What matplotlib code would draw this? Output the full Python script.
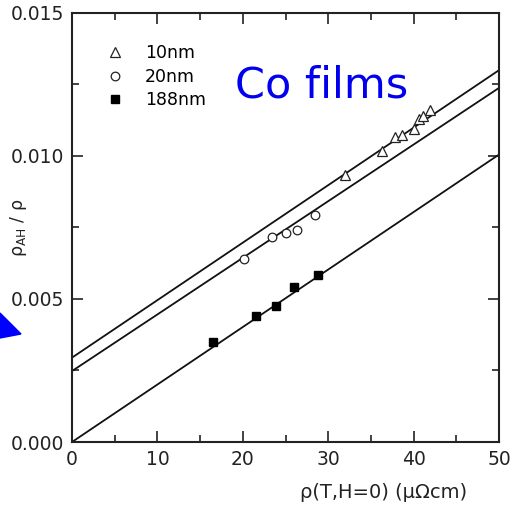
import matplotlib
matplotlib.use('Agg')
from matplotlib import pyplot as plt
from matplotlib.patches import Polygon
import numpy as np

plt.rcParams['font.family'] = ['DejaVu Sans']
plt.rcParams['mathtext.fontset'] = 'dejavusans'

# data
x_10nm = [32.0, 36.3, 37.8, 38.6, 40.0, 40.6, 41.1, 41.9]
y_10nm = [0.00933, 0.01017, 0.01066, 0.01074, 0.01093, 0.01130, 0.01141, 0.01162]
x_20nm = [20.1, 23.4, 25.1, 26.4, 28.4]
y_20nm = [0.00641, 0.00718, 0.00730, 0.00742, 0.00792]
x_188nm = [16.5, 21.6, 23.9, 26.0, 28.8]
y_188nm = [0.00351, 0.00439, 0.00476, 0.00543, 0.00583]

# fitted lines (intercept, slope)
fit_10nm = (0.00295, 0.000201)
fit_20nm = (0.00248, 0.000198)
fit_188nm = (0.0, 0.000201)

fig = plt.figure(figsize=(5.2, 5.07), dpi=100)
ax = fig.add_axes([0.1385, 0.1282, 0.8211, 0.8462])

xx = np.array([0, 50])
for b, m in [fit_10nm, fit_20nm, fit_188nm]:
    ax.plot(xx, b + m * xx, color='#111111', lw=1.3, zorder=2)

ax.plot(x_10nm, y_10nm, '^', ms=6.5, mfc='white', mec='#222222', mew=0.9, ls='none', label='10nm', zorder=3)
ax.plot(x_20nm, y_20nm, 'o', ms=6.2, mfc='white', mec='#222222', mew=0.9, ls='none', label='20nm', zorder=3)
ax.plot(x_188nm, y_188nm, 's', ms=6.2, mfc='black', mec='black', ls='none', label='188nm', zorder=3)

ax.set_xlim(0, 50)
ax.set_ylim(0, 0.015)
ax.set_xticks([0, 10, 20, 30, 40, 50])
ax.set_xticks(np.arange(5, 50, 10), minor=True)
ax.set_yticks([0, 0.005, 0.010, 0.015])
ax.set_yticks([0.0025, 0.0075, 0.0125], minor=True)
ax.set_yticklabels(['0.000', '0.005', '0.010', '0.015'])
ax.tick_params(which='both', direction='in', top=True, right=True, labelsize=13.5, colors='#222222', width=1.2)
ax.tick_params(which='major', length=8, pad=6)
ax.tick_params(which='minor', length=5)
for s in ax.spines.values():
    s.set_linewidth(1.5)
    s.set_color('#222222')

ax.set_xlabel('ρ(T,H=0) (μΩcm)', fontsize=14, color='#222222')
ax.xaxis.set_label_coords(0.73, -0.095)
ax.set_ylabel(r'ρ$_{\mathrm{AH}}$ / ρ', fontsize=12.5, color='#222222')
ax.yaxis.set_label_coords(-0.1, 0.5)

ax.legend(loc='upper left', frameon=False, fontsize=12.5, handletextpad=1.2,
          borderaxespad=0.3, labelspacing=0.3, handlelength=1.0,
          bbox_to_anchor=(0.053, 0.955))

ax.text(0.585, 0.83, 'Co films', transform=ax.transAxes, fontsize=31,
        color='#0000ee', ha='center', va='center', family='DejaVu Sans')

# blue arrow head poking in from the left edge
W, H = 520, 507
arrow = Polygon([(0 / W, 1 - 313 / H), (21 / W, 1 - 334 / H), (0 / W, 1 - 338 / H)],
                closed=True, transform=fig.transFigure, color='#0000ff', clip_on=False)
fig.patches.append(arrow)

fig.savefig('out.png', dpi=100)
